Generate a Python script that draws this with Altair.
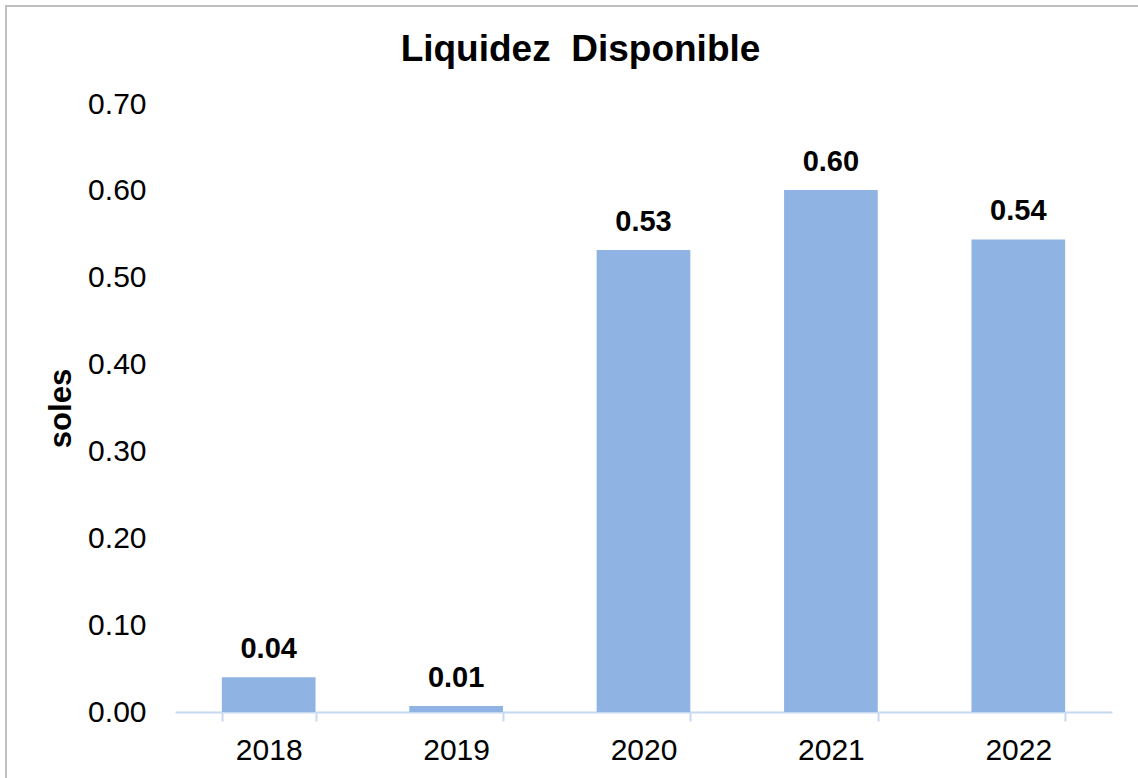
import altair as alt
import pandas as pd

years = ["2018", "2019", "2020", "2021", "2022"]
values = [0.040, 0.007, 0.532, 0.601, 0.544]
y_ticks = [0.0, 0.1, 0.2, 0.3, 0.4, 0.5, 0.6, 0.7]

df = pd.DataFrame({"year": years, "value": values})

FONT = "Liberation Sans"
BAR = "#8FB4E3"

x_enc = alt.X(
    "year:N",
    sort=years,
    scale=alt.Scale(paddingInner=0.5, paddingOuter=0.25),
    axis=alt.Axis(
        title=None,
        labelAngle=0,
        labelFont=FONT,
        labelFontSize=30,
        labelColor="black",
        labelPadding=14,
        domainColor="#C6D9F1",
        domainWidth=2,
        tickColor="#C6D9F1",
        tickWidth=2,
        tickSize=9,
        tickBand="extent",
        grid=False,
    ),
)
y_enc = alt.Y(
    "value:Q",
    scale=alt.Scale(domain=[0, 0.7], nice=False, zero=True),
    axis=alt.Axis(
        title="soles",
        values=y_ticks,
        format=".2f",
        labelFont=FONT,
        labelFontSize=30,
        labelColor="black",
        labelPadding=29,
        ticks=False,
        domain=False,
        grid=False,
        titleFont=FONT,
        titleFontSize=31,
        titleFontWeight="bold",
        titleColor="black",
        titlePadding=10,
    ),
)

bars = alt.Chart(df).mark_bar(color=BAR).encode(x=x_enc, y=y_enc)
labels = alt.Chart(df).mark_text(
    font=FONT, fontSize=29, fontWeight="bold", color="black",
    baseline="alphabetic", dy=-19,
).encode(x=alt.X("year:N", sort=years), y="value:Q", text=alt.Text("value:Q", format=".2f"))

border = alt.Chart(pd.DataFrame({"a": [0]})).mark_rect(
    fill=None, stroke="#BFBFBF", strokeWidth=2
).encode(
    x=alt.value(-169), x2=alt.value(1000), y=alt.value(-98), y2=alt.value(720)
)

chart = alt.layer(border, bars, labels).properties(
    width=937,
    height=608,
    background="white",
    autosize=alt.AutoSizeParams(type="none"),
    padding={"left": 175, "top": 104, "right": 26, "bottom": 66},
    title=alt.Title(
        "Liquidez\u00a0 Disponible",
        font=FONT, fontSize=37, fontWeight="bold", color="black",
        anchor="middle", dx=-63, offset=0, dy=93, baseline="alphabetic",
    ),
).configure_view(stroke=None)

chart.save("out.html", embed_options={"renderer": "svg", "actions": False})
